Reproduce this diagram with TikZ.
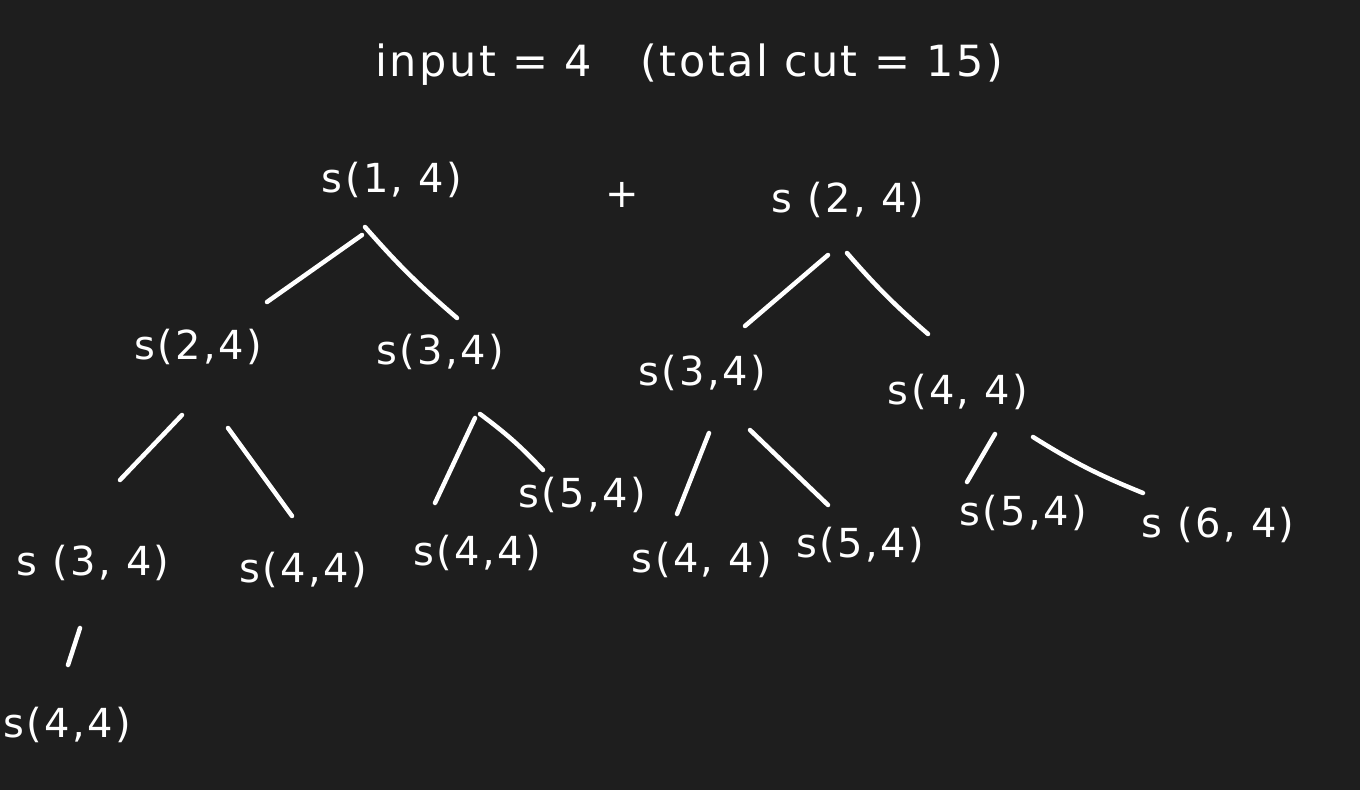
\documentclass[tikz,border=0pt]{standalone}
\usepackage{fontspec}
\setmainfont{DejaVu Sans}[LetterSpace=6]
\definecolor{bg}{HTML}{1E1E1E}
\tikzset{
  lbl/.style={text=white, inner sep=0pt, font=\fontsize{40}{44}\selectfont},
  ttl/.style={text=white, inner sep=0pt, font=\fontsize{43}{48}\selectfont},
  edge/.style={draw=white, line width=4.5pt, line cap=round},
}
\begin{document}
\begin{tikzpicture}[x=1pt, y=-1pt]
\fill[bg] (0,0) rectangle (1360,790);
\useasboundingbox (0,0) rectangle (1360,790);

\node[ttl] (title) at (689,65) {input = 4 \ \ (total cut = 15)};

\node[lbl] (s14) at (392,180) {s(1, 4)};
\node[lbl] (plus) at (622,195) {+};
\node[lbl] (s24) at (848,200) {s (2, 4)};

\node[lbl] (L1a) at (198,347) {s(2,4)};
\node[lbl] (L1b) at (440,352) {s(3,4)};
\node[lbl] (R1a) at (702,373) {s(3,4)};
\node[lbl] (R1b) at (958,392) {s(4, 4)};

\node[lbl] (L2a) at (93,563) {s (3, 4)};
\node[lbl] (L2b) at (303,570) {s(4,4)};
\node[lbl] (L2c) at (477,553) {s(4,4)};
\node[lbl] (L2d) at (582,495) {s(5,4)};
\node[lbl] (R2a) at (702,560) {s(4, 4)};
\node[lbl] (R2b) at (860,545) {s(5,4)};
\node[lbl] (R2c) at (1023,513) {s(5,4)};
\node[lbl] (R2d) at (1218,525) {s (6, 4)};

\node[lbl] (L3) at (67,725) {s(4,4)};

\draw[edge] ([shift={(-30,55)}]s14.center) -- ([shift={(69,-45)}]L1a.center);
\draw[edge] ([shift={(-27,47)}]s14.center) to[bend right=4] ([shift={(17,-34)}]L1b.center);
\draw[edge] ([shift={(-20,55)}]s24.center) -- ([shift={(43,-47)}]R1a.center);
\draw[edge] ([shift={(-1,53)}]s24.center) to[bend right=4] ([shift={(-30,-58)}]R1b.center);

\draw[edge] ([shift={(-16,68)}]L1a.center) -- ([shift={(27,-83)}]L2a.center);
\draw[edge] ([shift={(30,81)}]L1a.center) -- ([shift={(-11,-54)}]L2b.center);
\draw[edge] ([shift={(35,66)}]L1b.center) -- ([shift={(-42,-50)}]L2c.center);
\draw[edge] ([shift={(40,62)}]L1b.center) to[bend left=5] ([shift={(-39,-25)}]L2d.center);

\draw[edge] ([shift={(7,60)}]R1a.center) -- ([shift={(-25,-46)}]R2a.center);
\draw[edge] ([shift={(48,57)}]R1a.center) -- ([shift={(-32,-40)}]R2b.center);
\draw[edge] ([shift={(37,42)}]R1b.center) -- ([shift={(-56,-31)}]R2c.center);
\draw[edge] ([shift={(75,45)}]R1b.center) to[bend right=5] ([shift={(-75,-32)}]R2d.center);

\draw[edge] ([shift={(-13,65)}]L2a.center) -- ([shift={(1,-60)}]L3.center);
\end{tikzpicture}
\end{document}
